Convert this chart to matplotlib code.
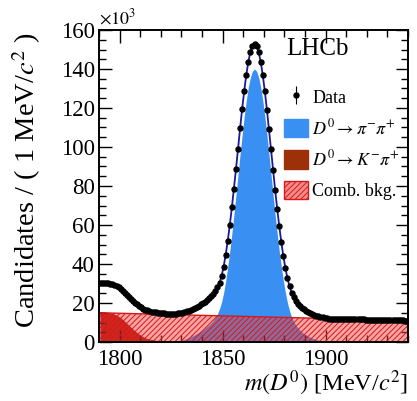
import numpy as np
import matplotlib
matplotlib.use("Agg")
import matplotlib.pyplot as plt
from matplotlib.ticker import MultipleLocator
from matplotlib.patches import Patch

# ---------------- data (units: 10^3 candidates per 1 MeV/c^2) ----------------
mass_start = 1790.5  # first bin centre, 1 MeV bins

data = [30.5, 30.5, 30.3, 30.2, 30.1, 29.9, 29.5, 29.1, 28.6, 28.0,
        27.2, 26.3, 25.3, 24.2, 23.2, 22.2, 21.2, 20.2, 19.3, 18.5,
        17.8, 17.1, 16.6, 16.2, 15.9, 15.6, 15.4, 15.2, 15.0, 14.9,
        14.8, 14.7, 14.5, 14.5, 14.5, 14.6, 14.5, 14.6, 14.7, 14.9,
        15.0, 15.3, 15.7, 16.0, 16.5, 17.0, 17.5, 18.0, 18.6, 19.3,
        20.0, 20.7, 21.5, 22.4, 23.4, 24.5, 26.0, 28.0, 30.4, 33.9,
        38.6, 44.8, 51.9, 60.0, 69.0, 78.6, 88.7, 99.2, 109.6, 119.6,
        128.8, 137.0, 143.8, 148.8, 151.9, 153.0, 151.9, 148.7, 143.6, 136.8,
        128.6, 119.2, 109.2, 98.8, 88.3, 78.0, 68.4, 59.4, 51.2, 44.0,
        37.8, 32.6, 28.5, 25.3, 23.0, 21.2, 19.7, 18.5, 17.5, 16.7,
        15.9, 15.3, 14.8, 14.2, 13.8, 13.5, 13.2, 12.8, 12.6, 12.4,
        12.2, 12.0, 12.0, 12.0, 12.0, 11.9, 11.9, 11.9, 11.8, 11.8,
        11.8, 11.8, 11.7, 11.7, 11.7, 11.7, 11.6, 11.6, 11.6, 11.5,
        11.5, 11.5, 11.5, 11.4, 11.4, 11.4, 11.4, 11.3, 11.3, 11.3,
        11.3, 11.2, 11.2, 11.2, 11.1, 11.1, 11.1, 11.1, 11.0, 11.0]

# D0 -> pi- pi+ signal component, bins starting at 1824.5
signal_start = 1824.5
signal = [0.1, 0.2, 0.3, 0.4, 0.6, 0.8, 1.1, 1.4, 1.8, 2.2,
          2.7, 3.2, 3.7, 4.3, 4.9, 5.6, 6.3, 7.1, 7.9, 8.8,
          9.8, 11.0, 12.5, 14.5, 17.0, 20.5, 25.2, 31.4, 38.6, 46.7,
          55.7, 65.3, 75.5, 86.0, 96.4, 106.4, 115.7, 123.9, 130.7, 135.8,
          138.9, 140.0, 138.9, 135.8, 130.7, 123.9, 115.7, 106.4, 96.4, 86.0,
          75.5, 65.3, 55.7, 46.7, 38.6, 31.4, 25.2, 20.0, 16.0, 12.8,
          10.5, 8.7, 7.3, 6.1, 5.1, 4.3, 3.6, 3.0, 2.5, 2.0,
          1.6, 1.3, 1.0, 0.7, 0.5, 0.3, 0.1]

# D0 -> K- pi+ misidentified component, bins starting at 1790.5
kpi_start = 1790.5
kpi = [15.5, 15.5, 15.4, 15.3, 15.2, 15.0, 14.7, 14.3, 13.8, 13.2,
       12.5, 11.6, 10.6, 9.6, 8.6, 7.6, 6.6, 5.7, 4.8, 4.0,
       3.3, 2.7, 2.2, 1.8, 1.5, 1.3, 1.1, 0.9, 0.8, 0.7,
       0.6, 0.5, 0.4, 0.4, 0.3, 0.3, 0.2, 0.2, 0.1, 0.1, 0.0]

# combinatorial background (straight line between the range ends)
comb_mass = [1790, 1940]
comb = [15.0, 11.0]

x_range = (1790, 1940)
y_range = (0, 160)
x_major = [1800, 1850, 1900]

# ---------------- style ----------------
plt.rcParams['font.family'] = ['Liberation Serif', 'DejaVu Serif']
plt.rcParams['mathtext.fontset'] = 'stix'
plt.rcParams['hatch.linewidth'] = 0.7

fig = plt.figure(figsize=(4.17, 4.01), dpi=100)
ax = fig.add_axes([99/417, 59/401, 309/417, 312/401])

m_data = mass_start + np.arange(len(data))
m_sig = signal_start + np.arange(len(signal))
m_kpi = kpi_start + np.arange(len(kpi))

blue = '#3a90f2'
kpi_col = '#b01000'
comb_face = (0.92, 0.25, 0.25, 0.48)
comb_edge = '#d81818'

ax.fill_between(m_sig, 0, signal, color=blue, lw=0, zorder=1)
ax.fill_between(m_kpi, 0, kpi, color=kpi_col, lw=0, zorder=1)
ax.fill_between(comb_mass, 0, comb, facecolor=comb_face, edgecolor=comb_edge,
                hatch='//////', lw=0, zorder=2)
ax.plot(comb_mass, comb, color=comb_edge, lw=1.0, zorder=2)

# total fit line and data points
ax.plot(m_data, data, color='#1a1a9a', lw=1.3, zorder=3)
err = np.sqrt(np.array(data) / 1000.0) * 1.5
ax.errorbar(m_data, data, yerr=err, fmt='o', color='black', ms=3.6,
            elinewidth=0.8, capsize=0, zorder=4)

ax.set_xlim(*x_range)
ax.set_ylim(*y_range)
ax.set_xticks(x_major)
ax.xaxis.set_minor_locator(MultipleLocator(10))
ax.yaxis.set_major_locator(MultipleLocator(20))
ax.yaxis.set_minor_locator(MultipleLocator(5))
ax.tick_params(which='both', direction='in', top=True, right=True,
               labelsize=16.5, width=1.0)
ax.tick_params(which='major', length=9)
ax.tick_params(which='minor', length=5)
ax.tick_params(axis='x', pad=5)
ax.tick_params(axis='y', pad=3)
for s in ax.spines.values():
    s.set_linewidth(1.4)

ax.set_ylabel('Candidates / ( 1 MeV/$c^2$ )', fontsize=20.5)
ax.yaxis.set_label_coords(-0.18, 0.52)
ax.set_xlabel('$m(D^0)$ [MeV/$c^2$]', fontsize=17.5, ha='right', va='bottom')
ax.xaxis.set_label_coords(1.0, -0.18)

ax.text(0.0, 1.005, r'$\times10^3$', transform=ax.transAxes, fontsize=13,
        ha='left', va='bottom')
ax.text(0.605, 0.94, 'LHCb', transform=ax.transAxes, fontsize=18,
        ha='left', va='center')

h_data = ax.errorbar([], [], yerr=[], fmt='o', color='black', ms=3.6,
                     elinewidth=0.8, capsize=0)
h_sig = Patch(facecolor=blue, edgecolor=blue)
h_kpi = Patch(facecolor='#9c3008', edgecolor='#9c3008')
h_comb = Patch(facecolor=(0.95, 0.55, 0.55), edgecolor=comb_edge, hatch='//////')
leg = ax.legend([h_data, h_sig, h_kpi, h_comb],
                ['Data', r'$D^0 \rightarrow \pi^{-}\pi^{+}$',
                 r'$D^0 \rightarrow K^{-}\pi^{+}$', 'Comb. bkg.'],
                loc='upper left', bbox_to_anchor=(0.60, 0.815),
                frameon=False, fontsize=13, handlelength=1.3,
                handleheight=1.2, labelspacing=0.62, handletextpad=0.25,
                borderpad=0, borderaxespad=0)

fig.savefig('out.png', dpi=100)
